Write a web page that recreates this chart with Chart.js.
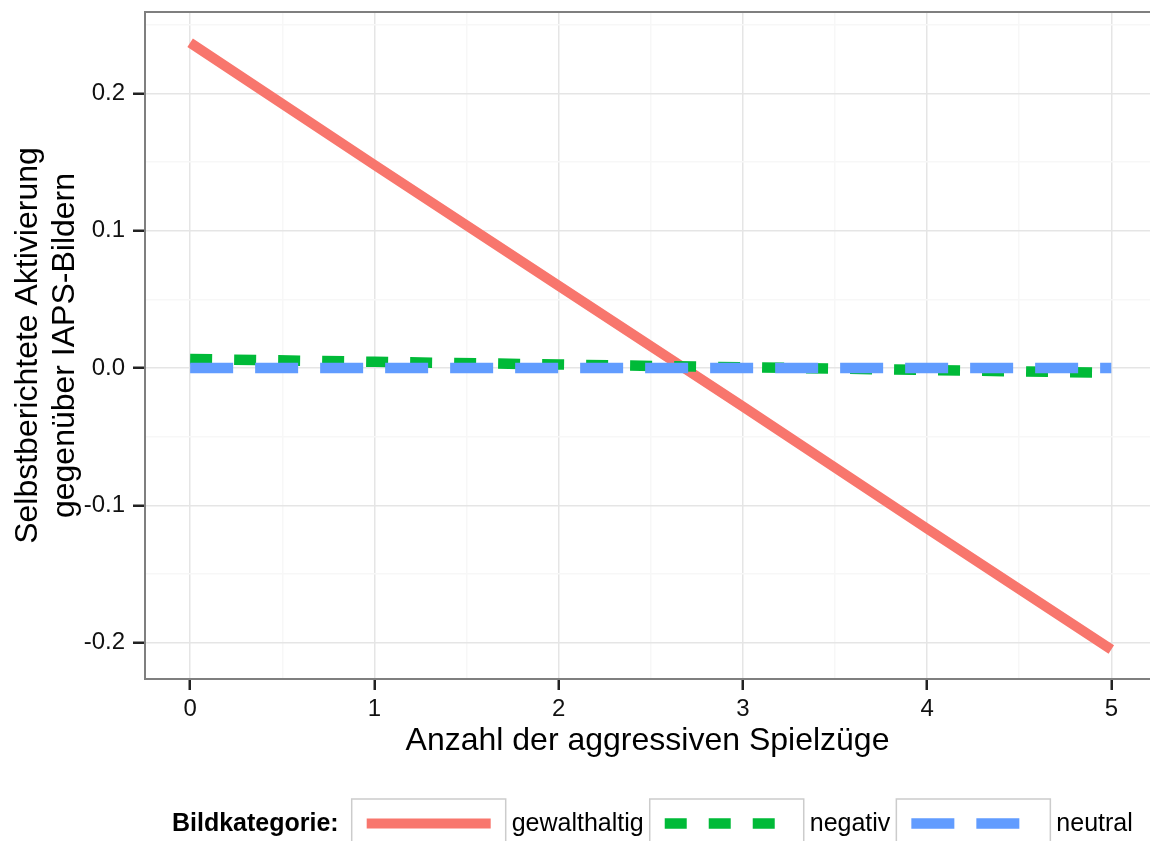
<!DOCTYPE html>
<html>
<head>
<meta charset="utf-8">
<script src="https://cdn.jsdelivr.net/npm/chart.js@4/dist/chart.umd.min.js"></script>
<style>
  body { margin: 0; background: #fff; overflow: hidden; }
</style>
</head>
<body>
<canvas id="myChart" width="1150" height="841"></canvas>
<script>
// DATA
let xValues = [0, 1, 2, 3, 4, 5];
let gewalthaltig = [0.237, 0.148, 0.060, -0.028, -0.117, -0.205];
let negativ = [0.0066, 0.0046, 0.0026, 0.0006, -0.0014, -0.0034];
let neutral = [0, 0, 0, 0, 0, 0];
let categories = ["gewalthaltig", "negativ", "neutral"];

let xMajor = [0, 1, 2, 3, 4, 5];
let xMinor = [0.5, 1.5, 2.5, 3.5, 4.5];
let yMajor = [-0.2, -0.1, 0, 0.1, 0.2];
let yMinor = [-0.15, -0.05, 0.05, 0.15, 0.25];

const FONT = "'Liberation Sans', Arial, sans-serif";

function isMajor(list, v) {
  return list.some(m => Math.abs(m - v) < 1e-9);
}

function points(ys) {
  return xValues.map((x, i) => ({ x: x, y: ys[i] }));
}

// legend drawn like the ggplot one, plus the top panel border
const ggLegend = {
  id: "ggLegend",
  afterDraw(chart) {
    let ctx = chart.ctx;
    let a = chart.chartArea;
    ctx.save();

    ctx.strokeStyle = "#7f7f7f";
    ctx.lineWidth = 2;
    ctx.beginPath();
    ctx.moveTo(a.left, a.top);
    ctx.lineTo(a.right, a.top);
    ctx.stroke();

    let y = 824;
    ctx.textBaseline = "middle";
    ctx.textAlign = "left";
    ctx.fillStyle = "#000";
    ctx.font = "bold 25px " + FONT;
    ctx.fillText("Bildkategorie:", 172, y);
    let x = 172 + ctx.measureText("Bildkategorie:").width + 13;

    ctx.font = "25px " + FONT;
    chart.data.datasets.forEach(ds => {
      ctx.setLineDash([]);
      ctx.strokeStyle = "#cccccc";
      ctx.lineWidth = 1.5;
      ctx.strokeRect(x, 799, 154, 70);

      ctx.strokeStyle = ds.borderColor;
      ctx.lineWidth = ds.borderWidth;
      ctx.setLineDash(ds.borderDash || []);
      ctx.beginPath();
      ctx.moveTo(x + 15, y - 0.5);
      ctx.lineTo(x + 139, y - 0.5);
      ctx.stroke();
      ctx.setLineDash([]);

      ctx.fillText(ds.label, x + 160, y);
      x += 160 + ctx.measureText(ds.label).width + 6;
    });
    ctx.restore();
  }
};

let ctx = document.getElementById("myChart").getContext("2d");

new Chart(ctx, {
  type: "line",
  data: {
    datasets: [
      {
        label: categories[0],
        data: points(gewalthaltig),
        borderColor: "#F8766D",
        borderWidth: 10,
        order: 3
      },
      {
        label: categories[1],
        data: points(negativ),
        borderColor: "#00BA38",
        borderWidth: 10.5,
        borderDash: [22, 22],
        order: 2
      },
      {
        label: categories[2],
        data: points(neutral),
        borderColor: "#619CFF",
        borderWidth: 10.5,
        borderDash: [43, 22],
        order: 1
      }
    ]
  },
  options: {
    responsive: false,
    animation: false,
    layout: { padding: { top: 12, right: 0, bottom: 81, left: 0 } },
    elements: { point: { radius: 0 }, line: { tension: 0 } },
    plugins: { legend: { display: false }, tooltip: { enabled: false } },
    scales: {
      x: {
        type: "linear",
        min: -0.245,
        max: 5.21,
        afterBuildTicks: s => { s.ticks = xMajor.concat(xMinor).sort((a, b) => a - b).map(v => ({ value: v })); },
        afterFit: s => { s.height = 81; s.paddingLeft = 0; s.paddingRight = 0; },
        ticks: {
          autoSkip: false,
          maxRotation: 0,
          padding: 5,
          color: "#111",
          font: { family: FONT, size: 24 },
          callback: v => isMajor(xMajor, v) ? String(v) : ""
        },
        grid: {
          color: c => isMajor(xMajor, c.tick.value) ? "#e5e5e5" : "#f7f7f7",
          lineWidth: 1.5,
          tickLength: 11,
          tickWidth: 2.5,
          tickColor: c => isMajor(xMajor, c.tick.value) ? "#222" : "rgba(0,0,0,0)"
        },
        border: { color: "#7f7f7f", width: 2 },
        title: {
          display: true,
          text: "Anzahl der aggressiven Spielzüge",
          color: "#000",
          font: { family: FONT, size: 32, lineHeight: 1.15 },
          padding: { top: 0, bottom: 0 }
        }
      },
      y: {
        type: "linear",
        min: -0.2265,
        max: 0.2594,
        afterBuildTicks: s => { s.ticks = yMajor.concat(yMinor).sort((a, b) => a - b).map(v => ({ value: v })); },
        afterFit: s => { s.width = 145; s.paddingTop = 0; s.paddingBottom = 0; },
        ticks: {
          padding: 8,
          color: "#111",
          font: { family: FONT, size: 24 },
          callback: v => isMajor(yMajor, v) ? v.toFixed(1) : ""
        },
        grid: {
          color: c => isMajor(yMajor, c.tick.value) ? "#e5e5e5" : "#f7f7f7",
          lineWidth: 1.5,
          tickLength: 12,
          tickWidth: 2.5,
          tickColor: c => isMajor(yMajor, c.tick.value) ? "#222" : "rgba(0,0,0,0)"
        },
        border: { color: "#7f7f7f", width: 2 },
        title: {
          display: true,
          text: ["Selbstberichtete Aktivierung", "gegenüber IAPS-Bildern"],
          color: "#000",
          font: { family: FONT, size: 32, lineHeight: 1.15 },
          padding: { top: 10, bottom: 0 }
        }
      }
    }
  },
  plugins: [ggLegend]
});
</script>
</body>
</html>
